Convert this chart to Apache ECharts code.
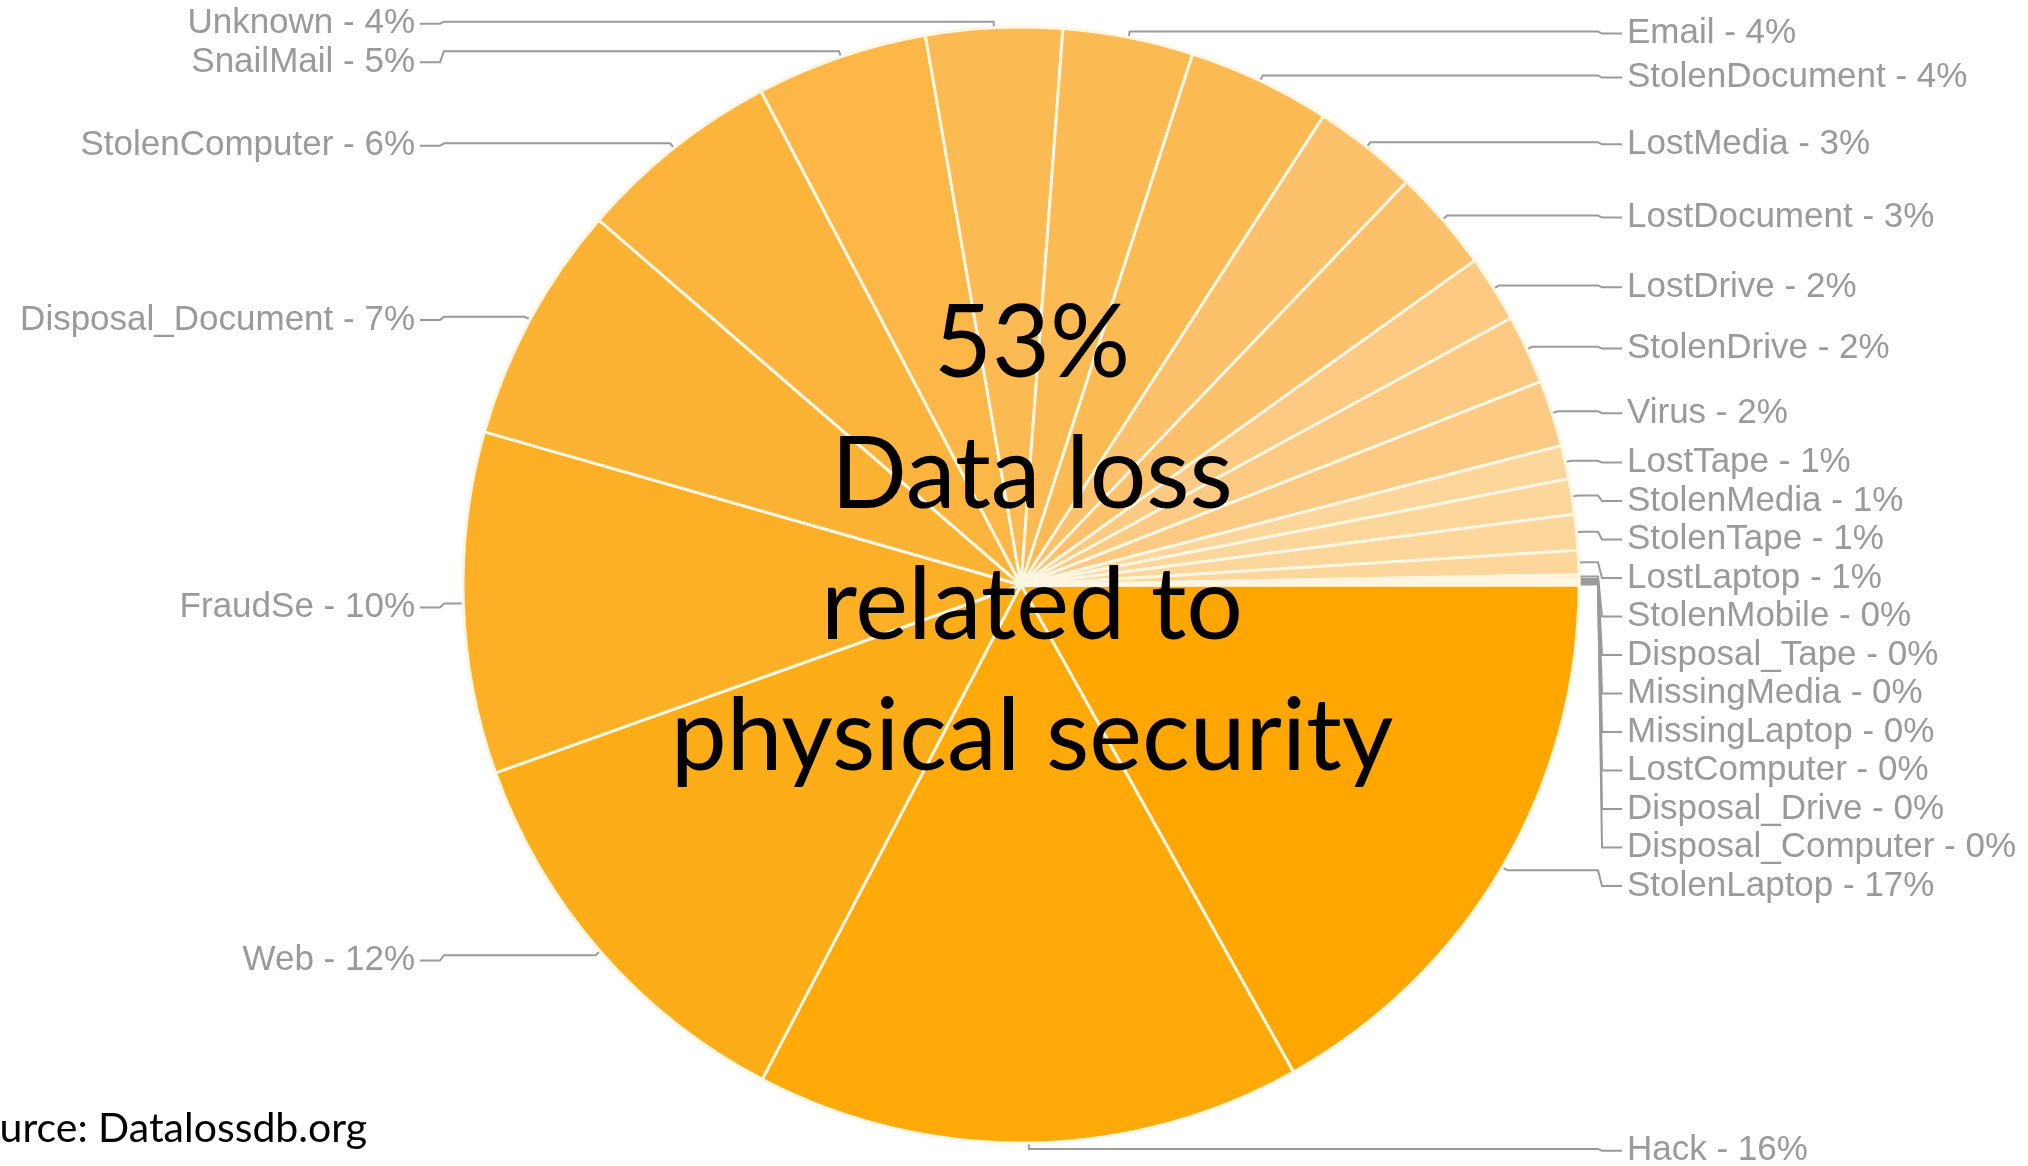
<!DOCTYPE html>
<html>
<head>
<meta charset="utf-8">
<script src="https://cdn.jsdelivr.net/npm/echarts@6/dist/echarts.min.js"></script>
<style>
html,body{margin:0;padding:0;background:#ffffff;}
#chart{width:2028px;height:1166px;}
</style>
</head>
<body>
<div id="chart"></div>
<script>
// ---- data ----
const categories = [
  'StolenLaptop', 'Hack', 'Web', 'FraudSe', 'Disposal_Document', 'StolenComputer',
  'SnailMail', 'Unknown', 'Email', 'StolenDocument', 'LostMedia', 'LostDocument',
  'LostDrive', 'StolenDrive', 'Virus', 'LostTape', 'StolenMedia', 'StolenTape',
  'LostLaptop', 'StolenMobile', 'Disposal_Tape', 'MissingMedia', 'MissingLaptop',
  'LostComputer', 'Disposal_Drive', 'Disposal_Computer'
];
const values = [
  16.88, 15.79, 11.86, 9.89, 6.92, 5.94,
  4.97, 3.94, 3.78, 4.14, 3.03, 2.97,
  1.94, 2.00, 1.92, 0.97, 1.03, 1.03,
  0.70, 0.10, 0.04, 0.03, 0.03,
  0.03, 0.03, 0.03
];
const centerLines = ['53%', 'Data loss', 'related to', 'physical security'];
const sourceText = 'Source: Datalossdb.org';

// ---- styling / layout constants ----
const PIE_CX = 1021, PIE_CY = 585, PIE_R = 558;
const COL_OFFSET = 43;   // distance from pie rim to label column
const LABEL_GAP = 5;     // gap between leader end and text
const BEND = 24;         // where the leader bends, measured from the label column
const LABEL_DROP = 4;    // labels sit slightly below their anchor

const shadePieces = [
  { lt: 0.5, color: '#FEDFB3' },
  { gte: 0.5, lt: 1.5, color: '#FDD69C' },
  { gte: 1.5, lt: 2.5, color: '#FDCA83' },
  { gte: 2.5, lt: 3.5, color: '#FCC16A' },
  { gte: 3.5, lt: 4.5, color: '#FCBA52' },
  { gte: 4.5, lt: 5.5, color: '#FCB747' },
  { gte: 5.5, lt: 6.5, color: '#FCB43D' },
  { gte: 6.5, lt: 8.5, color: '#FCB233' },
  { gte: 8.5, lt: 11, color: '#FDAF26' },
  { gte: 11, lt: 14, color: '#FDAD18' },
  { gte: 14, lt: 16.5, color: '#FFAA08' },
  { gte: 16.5, color: '#FFA700' }
];

const chart = echarts.init(document.getElementById('chart'), null, { renderer: 'canvas' });
const pieData = categories.map((name, i) => ({ name: name, value: values[i] }));

function layoutLabel(p) {
  const pts = p.labelLinePoints;
  if (!pts || pts.length < 3) return {};
  const edge = pts[0];
  const labelY = pts[2][1] + LABEL_DROP;
  const isLeft = edge[0] < PIE_CX;
  const colX = isLeft ? PIE_CX - PIE_R - COL_OFFSET : PIE_CX + PIE_R + COL_OFFSET;
  const bendX = isLeft ? colX + BEND : colX - BEND;
  // small radial step away from the rim
  const dx = edge[0] - PIE_CX, dy = edge[1] - PIE_CY;
  const len = Math.sqrt(dx * dx + dy * dy) || 1;
  const ext = [edge[0] + dx / len * 6, edge[1] + dy / len * 6];
  let bx = bendX;
  if (isLeft ? ext[0] < bendX : ext[0] > bendX) bx = ext[0];
  return {
    x: isLeft ? colX - LABEL_GAP : colX + LABEL_GAP,
    y: labelY,
    align: isLeft ? 'right' : 'left',
    verticalAlign: 'middle',
    labelLinePoints: [edge, ext, [bx, ext[1]], [isLeft ? bx - 4 : bx + 4, labelY], [colX, labelY]]
  };
}

chart.setOption({
  animation: false,
  backgroundColor: '#ffffff',
  visualMap: {
    show: false,
    type: 'piecewise',
    seriesIndex: 0,
    pieces: shadePieces
  },
  series: [{
    type: 'pie',
    center: [PIE_CX, PIE_CY],
    radius: PIE_R,
    startAngle: 0,
    clockwise: true,
    avoidLabelOverlap: true,
    minAngle: 0,
    data: pieData,
    itemStyle: { borderColor: '#FFF6E2', borderWidth: 3 },
    label: {
      show: true,
      position: 'outside',
      distanceToLabelLine: 5,
      bleedMargin: 4,
      overflow: 'none',
      color: '#9a9a9a',
      fontFamily: '"Liberation Sans", Arial, sans-serif',
      fontSize: 35,
      lineHeight: 36.5,
      formatter: p => p.name + ' - ' + Math.round(p.percent) + '%'
    },
    labelLine: {
      show: true,
      length: 8,
      length2: 35,
      lineStyle: { color: '#9a9a9a', width: 2 }
    },
    labelLayout: layoutLabel,
    emphasis: { disabled: true }
  }],
  graphic: [
    {
      type: 'text',
      x: 1032, y: 541,
      z: 100,
      silent: true,
      style: {
        text: centerLines.join('\n'),
        textAlign: 'center',
        textVerticalAlign: 'middle',
        fontFamily: 'Lato, "Open Sans", sans-serif',
        fontSize: 100,
        lineHeight: 131,
        fill: '#000000'
      }
    },
    {
      type: 'text',
      x: 367, y: 1129,
      z: 100,
      silent: true,
      style: {
        text: sourceText,
        textAlign: 'right',
        textVerticalAlign: 'middle',
        fontFamily: 'Lato, "Open Sans", sans-serif',
        fontSize: 41,
        fill: '#000000'
      }
    }
  ]
});
</script>
</body>
</html>
